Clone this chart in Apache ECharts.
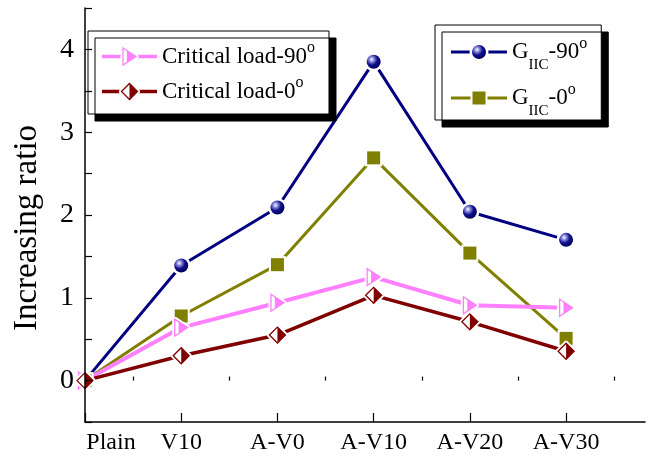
<!DOCTYPE html>
<html>
<head>
<meta charset="utf-8">
<script src="https://cdn.jsdelivr.net/npm/echarts@6/dist/echarts.min.js"></script>
<style>
  html, body { margin: 0; padding: 0; background: #fff; }
  #chart { width: 651px; height: 459px; }
</style>
</head>
<body>
<div id="chart"></div>
<script>
// Specimen categories along the x axis
const categories = ['Plain', 'V10', 'A-V0', 'A-V10', 'A-V20', 'A-V30'];

// Increasing ratio of each specimen relative to the plain one
const giic90 = [0, 1.39, 2.09, 3.85, 2.04, 1.70];
const giic0 = [0, 0.78, 1.40, 2.69, 1.54, 0.51];
const critical90 = [0, 0.64, 0.94, 1.25, 0.91, 0.88];
const critical0 = [0, 0.30, 0.55, 1.03, 0.71, 0.355];

// Axis ticks and labels
const xTickValues = [0, 1, 2, 3, 4, 5];
const xMinorTickValues = [0.5, 1.5, 2.5, 3.5, 4.5, 5.5];
const yLabelValues = [0, 1, 2, 3, 4];
const yTickValues = [-0.5, 0, 0.5, 1, 1.5, 2, 2.5, 3, 3.5, 4, 4.5];

const FONT = '"Liberation Serif", "Times New Roman", serif';
const NAVY = '#000080', OLIVE = '#808000', PINK = '#ff80ff', MAROON = '#800000';

// Marker drawings centred on (0,0), each with a white halo so lines stop short of it
function markerBody(kind) {
  if (kind === 'sphere') {
    return '<defs><radialGradient id="g" cx="0.36" cy="0.33" r="0.72">' +
      '<stop offset="0" stop-color="#ffffff"/><stop offset="0.2" stop-color="#9a9ae0"/>' +
      '<stop offset="0.55" stop-color="#101090"/><stop offset="1" stop-color="#000050"/>' +
      '</radialGradient></defs>' +
      '<circle r="9.5" fill="#fff"/><circle r="7" fill="url(#g)"/>';
  }
  if (kind === 'square') {
    return '<rect x="-8.5" y="-8.5" width="17" height="17" fill="#fff"/>' +
      '<rect x="-6.5" y="-6.5" width="13" height="13" fill="' + OLIVE + '"/>';
  }
  if (kind === 'triangle') {
    const pts = '-6.5,-8.5 6.5,0 -6.5,8.5';
    return '<polygon points="' + pts + '" fill="#fff" stroke="#fff" stroke-width="5" stroke-linejoin="round"/>' +
      '<polygon points="' + pts + '" fill="#fff" stroke="' + PINK + '" stroke-width="1.3"/>' +
      '<polygon points="-2.6,-5.95 6.5,0 -2.6,5.95" fill="' + PINK + '"/>';
  }
  // half-filled diamond
  const pts = '-8,0 0,-8 8,0 0,8';
  return '<polygon points="' + pts + '" fill="#fff" stroke="#fff" stroke-width="5" stroke-linejoin="round"/>' +
    '<polygon points="' + pts + '" fill="#fff" stroke="' + MAROON + '" stroke-width="1.3"/>' +
    '<polygon points="0,-8 8,0 0,8" fill="' + MAROON + '"/>';
}

function svgUri(w, h, body) {
  const svg = '<svg xmlns="http://www.w3.org/2000/svg" width="' + w + '" height="' + h +
    '" viewBox="' + (-w / 2) + ' ' + (-h / 2) + ' ' + w + ' ' + h + '">' + body + '</svg>';
  return 'image://data:image/svg+xml;charset=utf-8,' + encodeURIComponent(svg);
}

function markerSymbol(kind) {
  return svgUri(22, 22, markerBody(kind));
}

function legendIcon(kind, color, width, w) {
  const line = '<line x1="' + (-w / 2) + '" y1="0" x2="' + (w / 2) + '" y2="0" stroke="' + color +
    '" stroke-width="' + width + '"/>';
  return svgUri(w, 22, line + markerBody(kind));
}

function lineSeries(name, values, color, width, kind) {
  return {
    type: 'line',
    name: name,
    data: values.map((v, i) => [i, v]),
    symbol: markerSymbol(kind),
    symbolSize: 22,
    symbolKeepAspect: true,
    showSymbol: true,
    lineStyle: { color: color, width: width },
    itemStyle: { color: color },
    emphasis: { disabled: true }
  };
}

const legendBase = {
  orient: 'vertical',
  selectedMode: false,
  backgroundColor: '#fff',
  borderColor: '#000',
  borderWidth: 1,
  borderRadius: 0,
  shadowColor: '#000',
  shadowBlur: 0,
  shadowOffsetX: 7,
  shadowOffsetY: 7,
  itemHeight: 22,
  textStyle: {
    fontFamily: FONT,
    fontSize: 23,
    color: '#000',
    lineHeight: 26,
    rich: {
      sup: { fontFamily: FONT, fontSize: 16, color: '#000', lineHeight: 16, padding: [0, 0, 17, 0] },
      sub: { fontFamily: FONT, fontSize: 15, color: '#000', lineHeight: 15, padding: [27, 0, 0, 0] }
    }
  }
};

const legendText = {
  'Critical load-90': 'Critical load-90{sup|o}',
  'Critical load-0': 'Critical load-0{sup|o}',
  'GIIC-90': 'G{sub|IIC}-90{sup|o}',
  'GIIC-0': 'G{sub|IIC}-0{sup|o}'
};

const chart = echarts.init(document.getElementById('chart'), null, { renderer: 'canvas' });

chart.setOption({
  animation: false,
  backgroundColor: '#fff',
  grid: { left: 85, right: 6, top: 8, bottom: 37, containLabel: false },
  legend: [
    Object.assign({}, legendBase, {
      left: 88, top: 31,
      padding: [9, 14, 6, 14],
      itemGap: 2,
      itemWidth: 55,
      data: [
        { name: 'Critical load-90', icon: legendIcon('triangle', PINK, 3.5, 55) },
        { name: 'Critical load-0', icon: legendIcon('diamond', MAROON, 3.5, 55) }
      ],
      formatter: n => legendText[n]
    }),
    Object.assign({}, legendBase, {
      left: 435, top: 25,
      padding: [6, 14, 1, 16],
      itemGap: 4,
      itemWidth: 56,
      data: [
        { name: 'GIIC-90', icon: legendIcon('sphere', NAVY, 3, 56) },
        { name: 'GIIC-0', icon: legendIcon('square', OLIVE, 3, 56) }
      ],
      formatter: n => legendText[n]
    })
  ],
  xAxis: [
    {
      type: 'value',
      min: 0,
      max: 5.82,
      z: 10,
      axisLine: { show: true, onZero: false, lineStyle: { color: '#000', width: 1.5 } },
      axisTick: { show: true, inside: true, length: 9, customValues: xTickValues, lineStyle: { color: '#000', width: 1.2 } },
      axisLabel: {
        customValues: xTickValues,
        fontFamily: FONT,
        fontSize: 24,
        color: '#000',
        margin: 9,
        formatter: v => (v === 0 ? '{first|' + categories[v] + '}' : categories[v]),
        rich: { first: { fontFamily: FONT, fontSize: 24, color: '#000', padding: [0, 0, 0, 52] } }
      },
      splitLine: { show: false }
    },
    {
      type: 'value',
      min: 0,
      max: 5.82,
      position: 'bottom',
      z: 10,
      axisLine: { show: false },
      axisTick: { show: true, inside: true, length: 4, customValues: xMinorTickValues, lineStyle: { color: '#000', width: 1.2 } },
      axisLabel: { show: false },
      splitLine: { show: false }
    }
  ],
  yAxis: {
    type: 'value',
    min: -0.5,
    max: 4.5,
    z: 10,
    name: 'Increasing ratio',
    nameLocation: 'middle',
    nameGap: 41,
    nameTextStyle: { fontFamily: FONT, fontSize: 33, color: '#000', padding: [0, 26, 0, 0] },
    axisLine: { show: true, onZero: false, lineStyle: { color: '#000', width: 1.5 } },
    axisTick: { show: true, inside: true, length: 7, customValues: yTickValues, lineStyle: { color: '#000', width: 1.2 } },
    axisLabel: { customValues: yLabelValues, fontFamily: FONT, fontSize: 28, color: '#000', margin: 11 },
    splitLine: { show: false }
  },
  series: [
    lineSeries('GIIC-90', giic90, NAVY, 3, 'sphere'),
    lineSeries('GIIC-0', giic0, OLIVE, 3, 'square'),
    lineSeries('Critical load-90', critical90, PINK, 4, 'triangle'),
    lineSeries('Critical load-0', critical0, MAROON, 3.5, 'diamond')
  ]
});
</script>
</body>
</html>
